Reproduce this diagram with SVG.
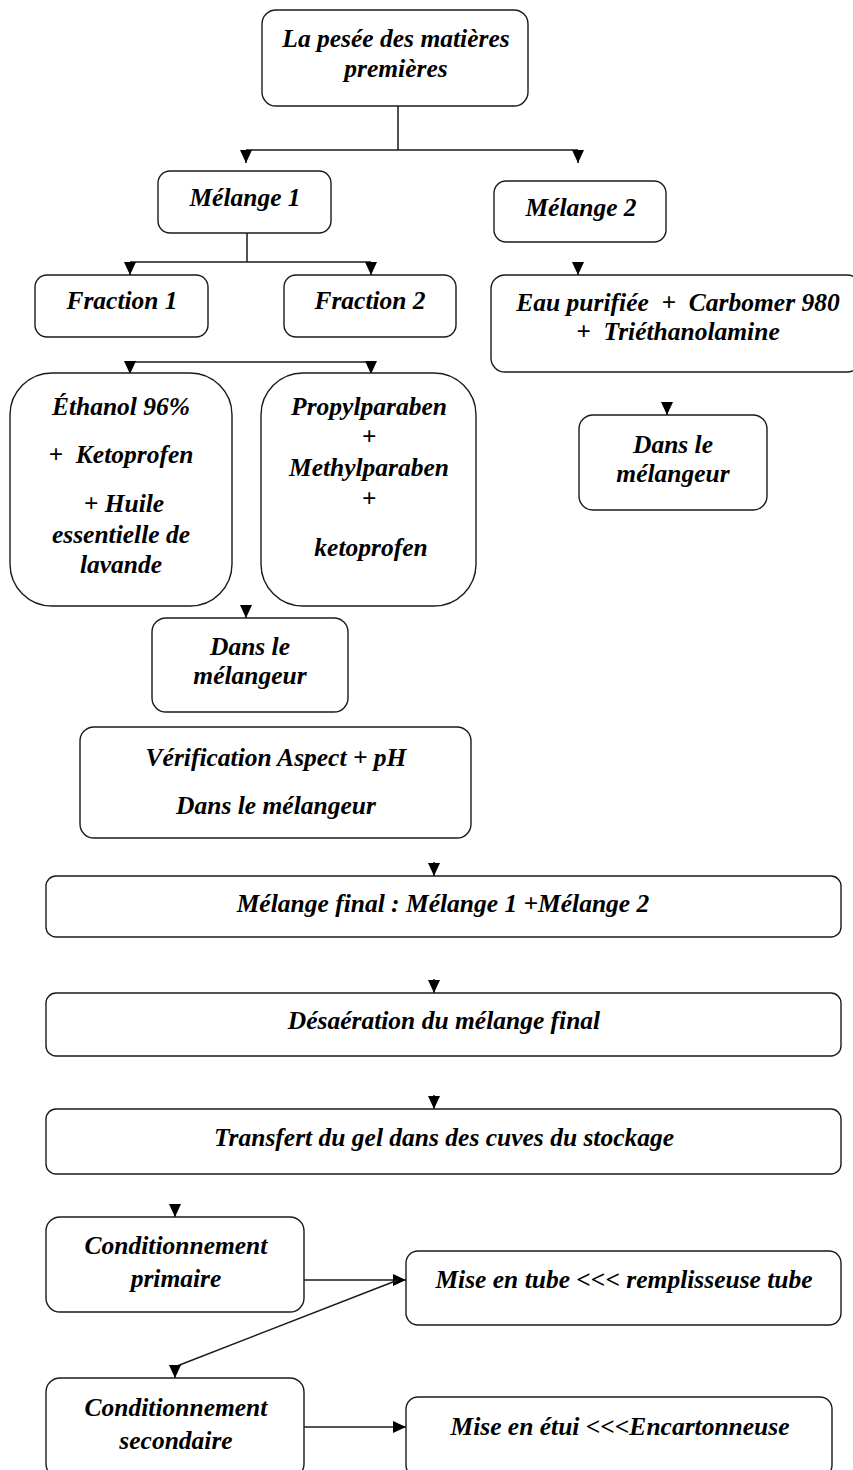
<svg xmlns="http://www.w3.org/2000/svg" width="853" height="1470" viewBox="0 0 853 1470">
<style>
.b{fill:#fff;stroke:#1a1a1a;stroke-width:1.4}
.t{font-family:"Liberation Serif","Times New Roman",serif;font-weight:bold;font-style:italic;font-size:25.5px;fill:#000;text-anchor:middle;white-space:pre}
.c{fill:none;stroke:#1a1a1a;stroke-width:1.5}
</style>
<defs>
<marker id="ah" viewBox="0 0 13 12" refX="13" refY="6" markerWidth="13" markerHeight="12" markerUnits="userSpaceOnUse" orient="auto"><path d="M0,0 L13,6 L0,12 z" fill="#000"/></marker>
</defs>
<rect width="853" height="1470" fill="#fff"/>
<g id="connectors">
<path class="c" d="M398,106 V150 M246,150 H578"/>
<line class="c" x1="246" y1="150" x2="246" y2="163" marker-end="url(#ah)"/>
<line class="c" x1="578" y1="150" x2="578" y2="163" marker-end="url(#ah)"/>
<path class="c" d="M247,233 V262 M130,262 H371"/>
<line class="c" x1="130" y1="262" x2="130" y2="275" marker-end="url(#ah)"/>
<line class="c" x1="371" y1="262" x2="371" y2="275" marker-end="url(#ah)"/>
<line class="c" x1="578" y1="262" x2="578" y2="275" marker-end="url(#ah)"/>
<path class="c" d="M130,362 H371"/>
<line class="c" x1="130" y1="361" x2="130" y2="374" marker-end="url(#ah)"/>
<line class="c" x1="371" y1="361" x2="371" y2="374" marker-end="url(#ah)"/>
<line class="c" x1="667" y1="402" x2="667" y2="415" marker-end="url(#ah)"/>
<line class="c" x1="246" y1="605" x2="246" y2="618" marker-end="url(#ah)"/>
<line class="c" x1="434" y1="862" x2="434" y2="876" marker-end="url(#ah)"/>
<line class="c" x1="434" y1="979" x2="434" y2="993" marker-end="url(#ah)"/>
<line class="c" x1="434" y1="1095" x2="434" y2="1109" marker-end="url(#ah)"/>
<line class="c" x1="175" y1="1204" x2="175" y2="1217" marker-end="url(#ah)"/>
<line class="c" x1="304" y1="1280" x2="406" y2="1280" marker-end="url(#ah)"/>
<line class="c" x1="398" y1="1280" x2="177" y2="1366"/>
<line class="c" x1="175" y1="1365" x2="175" y2="1378" marker-end="url(#ah)"/>
<line class="c" x1="304" y1="1427" x2="406" y2="1427" marker-end="url(#ah)"/>
</g>
<g id="n-pesee"><rect class="b" x="262" y="10" width="266" height="96" rx="14"/><text class="t" x="396" y="47">La pesée des matières</text><text class="t" x="396" y="77">premières</text></g>
<g id="n-melange1"><rect class="b" x="158" y="171" width="173" height="62" rx="12"/><text class="t" x="245" y="206">Mélange 1</text></g>
<g id="n-melange2"><rect class="b" x="494" y="181" width="172" height="61" rx="12"/><text class="t" x="581" y="216">Mélange 2</text></g>
<g id="n-fraction1"><rect class="b" x="35" y="275" width="173" height="62" rx="12"/><text class="t" x="122" y="309">Fraction 1</text></g>
<g id="n-fraction2"><rect class="b" x="284" y="275" width="172" height="62" rx="12"/><text class="t" x="370" y="309">Fraction 2</text></g>
<g id="n-eau"><rect class="b" x="491" y="275" width="370" height="97" rx="14"/><text class="t" x="678" y="311">Eau purifiée  +  Carbomer 980</text><text class="t" x="678" y="340">+  Triéthanolamine</text></g>
<g id="n-ethanol"><rect class="b" x="10" y="373" width="222" height="233" rx="42"/><text class="t" x="121" y="415">Éthanol 96%</text><text class="t" x="121" y="463">+  Ketoprofen</text><text class="t" x="124" y="512">+ Huile</text><text class="t" x="121" y="543">essentielle de</text><text class="t" x="121" y="573">lavande</text></g>
<g id="n-propyl"><rect class="b" x="261" y="373" width="215" height="233" rx="42"/><text class="t" x="369" y="415">Propylparaben</text><text class="t" x="369" y="445">+</text><text class="t" x="369" y="476">Methylparaben</text><text class="t" x="369" y="507">+</text><text class="t" x="371" y="556">ketoprofen</text></g>
<g id="n-dans2"><rect class="b" x="579" y="415" width="188" height="95" rx="14"/><text class="t" x="673" y="453">Dans le</text><text class="t" x="673" y="482">mélangeur</text></g>
<g id="n-dans1"><rect class="b" x="152" y="618" width="196" height="94" rx="14"/><text class="t" x="250" y="655">Dans le</text><text class="t" x="250" y="684">mélangeur</text></g>
<g id="n-verif"><rect class="b" x="80" y="727" width="391" height="111" rx="14"/><text class="t" x="276" y="766">Vérification Aspect + pH</text><text class="t" x="276" y="814">Dans le mélangeur</text></g>
<g id="n-final"><rect class="b" x="46" y="876" width="795" height="61" rx="10"/><text class="t" x="443" y="912">Mélange final : Mélange 1 +Mélange 2</text></g>
<g id="n-desaer"><rect class="b" x="46" y="993" width="795" height="63" rx="10"/><text class="t" x="444" y="1029">Désaération du mélange final</text></g>
<g id="n-transfert"><rect class="b" x="46" y="1109" width="795" height="65" rx="10"/><text class="t" x="444" y="1146">Transfert du gel dans des cuves du stockage</text></g>
<g id="n-cond1"><rect class="b" x="46" y="1217" width="258" height="95" rx="14"/><text class="t" x="176" y="1254">Conditionnement</text><text class="t" x="176" y="1287">primaire</text></g>
<g id="n-tube"><rect class="b" x="406" y="1251" width="435" height="74" rx="12"/><text class="t" x="624" y="1288">Mise en tube &lt;&lt;&lt; remplisseuse tube</text></g>
<g id="n-cond2"><rect class="b" x="46" y="1378" width="258" height="100" rx="14"/><text class="t" x="176" y="1416">Conditionnement</text><text class="t" x="176" y="1449">secondaire</text></g>
<g id="n-etui"><rect class="b" x="406" y="1397" width="426" height="80" rx="12"/><text class="t" x="620" y="1435">Mise en étui &lt;&lt;&lt;Encartonneuse</text></g>
</svg>
